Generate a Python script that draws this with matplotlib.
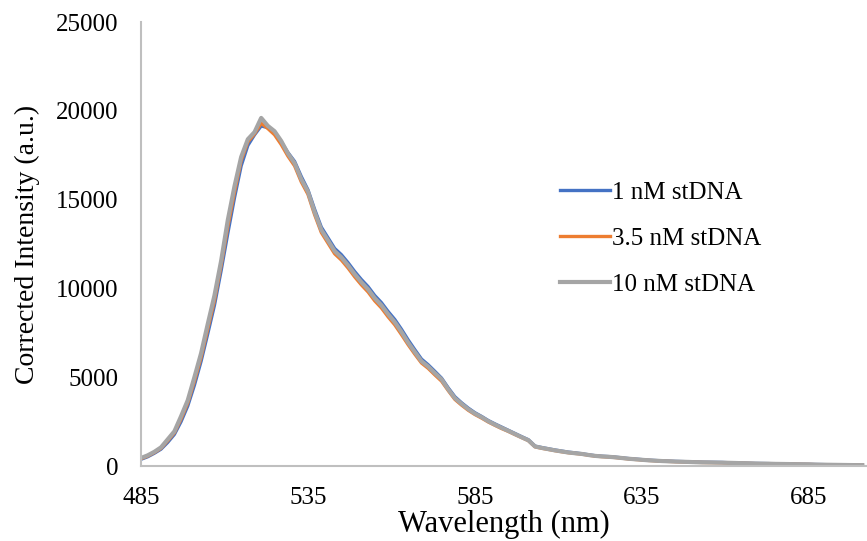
import numpy as np
import matplotlib.pyplot as plt

# emission spectra, 2 nm steps
wavelength = np.arange(485, 703, 2)

int_1nM = [380, 520, 720, 950, 1330, 1780, 2500, 3380, 4550, 5900,
           7450, 9050, 11000, 13100, 15100, 16900, 18050, 18650, 19150, 19050,
           18750, 18250, 17650, 17150, 16300, 15550, 14450, 13450, 12850, 12250,
           11900, 11450, 10950, 10500, 10100, 9600, 9200, 8700, 8250, 7700,
           7100, 6550, 6020, 5700, 5330, 4950, 4400, 3900, 3560, 3260,
           3000, 2790, 2560, 2370, 2190, 2010, 1830, 1650, 1480, 1120,
           1040, 970, 900, 840, 780, 740, 690, 635, 580, 550,
           530, 500, 460, 420, 390, 360, 330, 310, 290, 275,
           260, 250, 240, 225, 215, 210, 205, 200, 185, 175,
           165, 155, 145, 140, 135, 125, 120, 115, 105, 100,
           95, 85, 80, 72, 68, 62, 57, 52, 47]

int_3_5nM = [410, 560, 760, 1000, 1420, 1870, 2650, 3550, 4780, 6120,
             7720, 9320, 11300, 13480, 15420, 17200, 18250, 18700, 19300, 19000,
             18650, 18100, 17450, 16900, 16000, 15300, 14150, 13150, 12550, 11950,
             11600, 11150, 10650, 10200, 9800, 9300, 8900, 8400, 7950, 7400,
             6830, 6300, 5800, 5500, 5130, 4780, 4250, 3750, 3430, 3140,
             2900, 2700, 2480, 2290, 2110, 1950, 1770, 1600, 1430, 1080,
             1000, 935, 865, 805, 750, 710, 670, 610, 560, 530,
             510, 480, 440, 400, 370, 345, 315, 295, 275, 260,
             245, 235, 225, 210, 200, 195, 190, 185, 175, 165,
             155, 145, 135, 130, 125, 118, 112, 107, 98, 92,
             88, 78, 73, 68, 63, 58, 53, 48, 43]

int_10nM = [450, 600, 800, 1050, 1500, 1950, 2800, 3700, 5000, 6350,
            8000, 9600, 11550, 13850, 15750, 17400, 18400, 18800, 19600, 19150,
            18850, 18300, 17600, 17050, 16150, 15450, 14300, 13300, 12700, 12100,
            11750, 11300, 10800, 10350, 9950, 9450, 9050, 8550, 8100, 7550,
            6950, 6420, 5900, 5600, 5230, 4880, 4320, 3820, 3500, 3200,
            2950, 2750, 2520, 2330, 2150, 1980, 1800, 1620, 1450, 1100,
            1020, 950, 880, 820, 760, 720, 680, 620, 570, 540,
            520, 490, 450, 410, 380, 350, 320, 300, 280, 265,
            250, 240, 230, 215, 205, 200, 195, 190, 180, 170,
            160, 150, 140, 135, 130, 120, 115, 110, 100, 95,
            90, 80, 75, 70, 65, 60, 55, 50, 45]

labels = ['1 nM stDNA', '3.5 nM stDNA', '10 nM stDNA']
colors = ['#4472C4', '#ED7D31', '#A5A5A5']

plt.rcParams['font.family'] = ['Liberation Serif', 'DejaVu Serif']

fig = plt.figure(figsize=(8.67, 5.41), dpi=100)
ax = fig.add_axes([0.1626, 0.1386, 0.8374, 0.8207])

ax.plot(wavelength, int_1nM, color=colors[0], lw=2.4, label=labels[0])
ax.plot(wavelength, int_3_5nM, color=colors[1], lw=2.4, label=labels[1])
ax.plot(wavelength, int_10nM, color=colors[2], lw=3.0, label=labels[2])

ax.set_xlim(485, 702.4)
ax.set_ylim(0, 25000)
ax.set_xticks([485, 535, 585, 635, 685])
ax.set_yticks(range(0, 25001, 5000))
ax.tick_params(length=0, labelsize=18)
ax.tick_params(axis='y', pad=16)
ax.tick_params(axis='x', pad=15)

for s in ['top', 'right']:
    ax.spines[s].set_visible(False)
for s in ['left', 'bottom']:
    ax.spines[s].set_color('#BFBFBF')
    ax.spines[s].set_linewidth(1.5)

ax.set_xlabel('Wavelength (nm)', fontsize=22, labelpad=1)
ax.set_ylabel('Corrected Intensity (a.u.)', fontsize=20, labelpad=12)

ax.legend(loc='center left', bbox_to_anchor=(0.546, 0.512), frameon=False,
          fontsize=18, handlelength=2.0, handletextpad=0.1, labelspacing=0.95)

fig.savefig('out.png')
